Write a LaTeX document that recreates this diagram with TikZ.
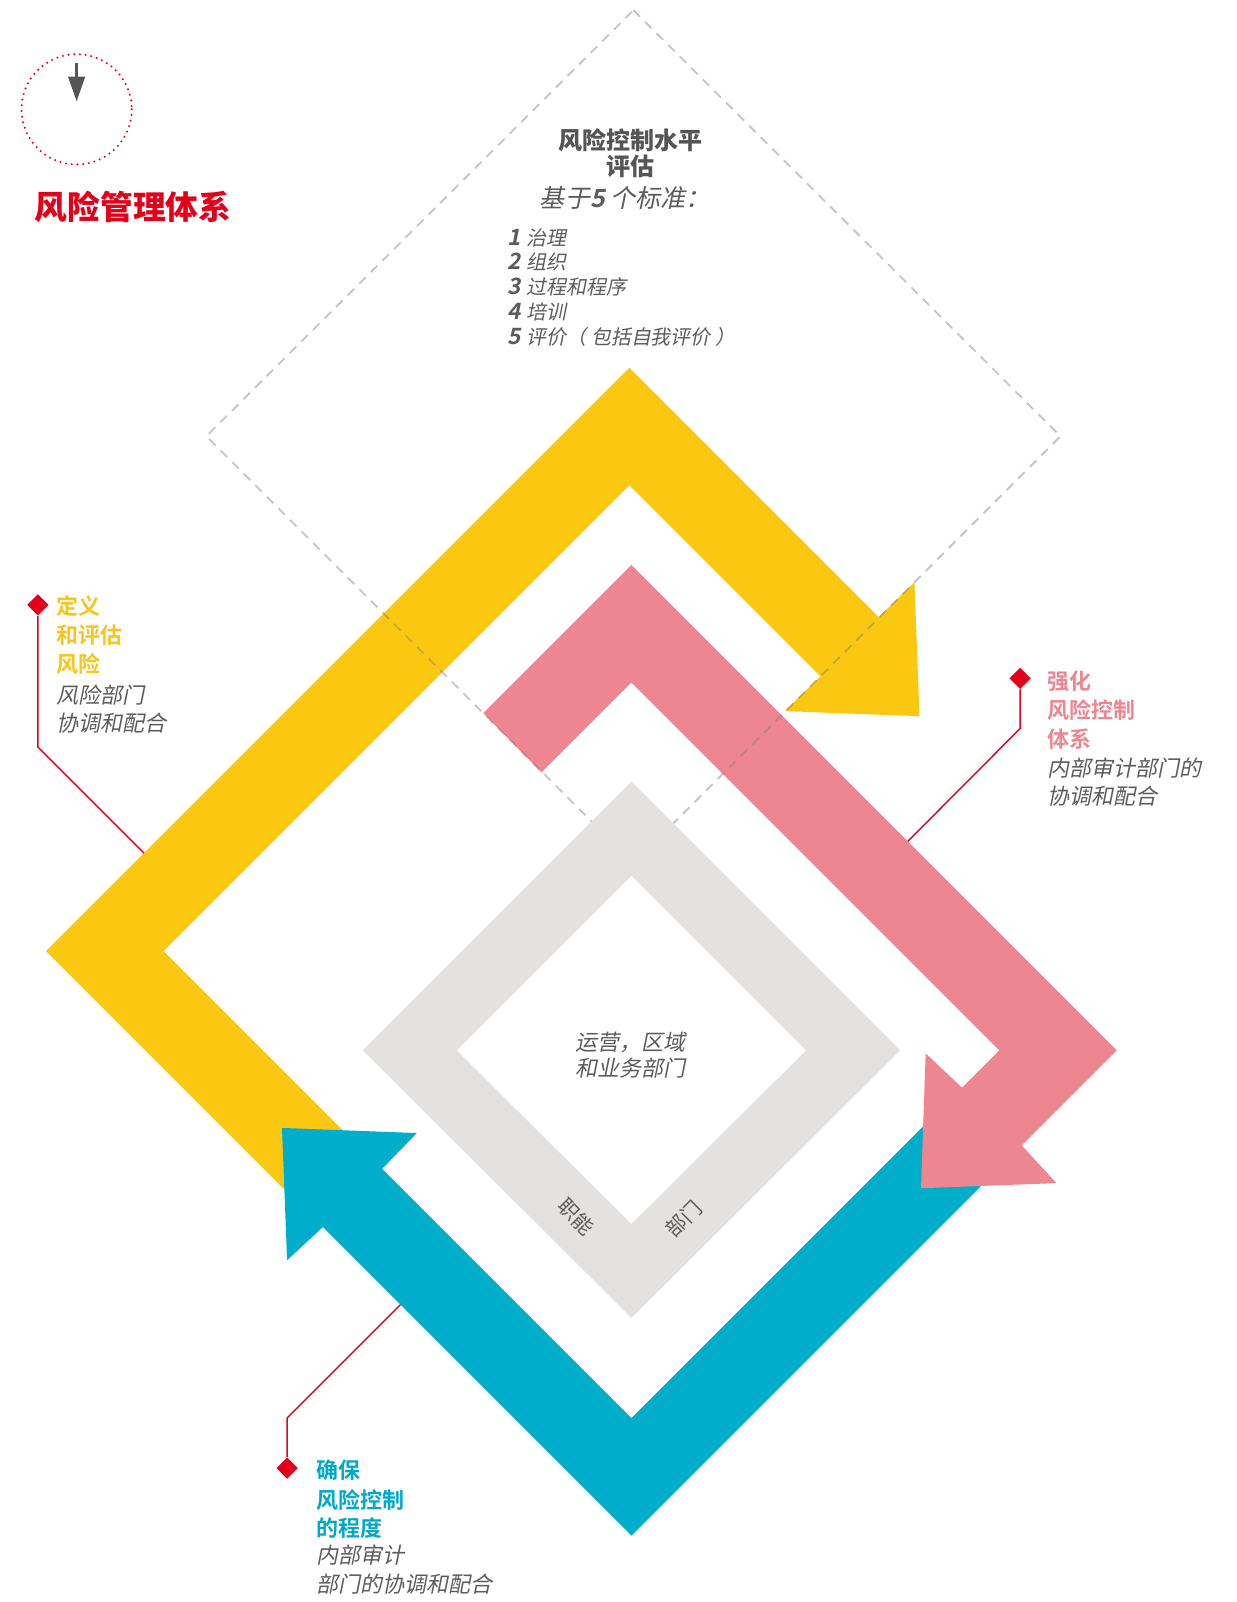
\documentclass[tikz,border=0pt]{standalone}
\usepackage{fontspec}
\usetikzlibrary{shapes.geometric}
\newfontfamily\cjk{Noto Sans CJK SC}
\newfontfamily\cjkit[FakeSlant=0.2]{Noto Sans CJK SC}
\IfFontExistsTF{Noto Sans CJK SC Bold}{%
  \newfontfamily\cjkb{Noto Sans CJK SC Bold}%
  \newfontfamily\cjkbit[FakeSlant=0.2]{Noto Sans CJK SC Bold}%
}{%
  \newfontfamily\cjkb[FakeBold=2.5]{Noto Sans CJK SC}%
  \newfontfamily\cjkbit[FakeBold=2.5,FakeSlant=0.2]{Noto Sans CJK SC}%
}
\IfFontExistsTF{Noto Sans CJK SC Black}{%
  \newfontfamily\cjkblack{Noto Sans CJK SC Black}%
}{%
  \let\cjkblack\cjkb
}
\definecolor{cyel}{HTML}{FAC711}
\definecolor{cpink}{HTML}{EE8692}
\definecolor{ccyan}{HTML}{00AECB}
\definecolor{cgray}{HTML}{E3E2E0}
\definecolor{cred}{HTML}{E3001B}
\definecolor{ctxt}{HTML}{5C5C5C}
\definecolor{chead}{HTML}{555555}
\definecolor{cdash}{HTML}{808080}
\definecolor{tyel}{HTML}{F9C51B}
\definecolor{tpink}{HTML}{EE8692}
\definecolor{tcyan}{HTML}{00A9C8}
\tikzset{
  lbl/.style={anchor=west, inner sep=0pt},
  ctr/.style={anchor=center, inner sep=0pt},
  marker/.style={diamond, fill=cred, inner sep=0pt, minimum size=21pt},
  callout/.style={draw=cred, line width=1.4pt},
  ybold/.style={lbl, text=tyel, font=\fontsize{21.5pt}{21.5pt}\cjkb},
  pbold/.style={lbl, text=tpink, font=\fontsize{21.5pt}{21.5pt}\cjkb},
  cbold/.style={lbl, text=tcyan, font=\fontsize{21.5pt}{21.5pt}\cjkb},
  gital/.style={lbl, text=ctxt, font=\fontsize{21.5pt}{21.5pt}\cjkit},
  listtxt/.style={lbl, text=ctxt, font=\fontsize{19.5pt}{19.5pt}\cjkit},
  dashline/.style={draw=cdash, opacity=0.45, line width=1.8pt, dash pattern=on 9pt off 7pt}
}
\newcommand\listnum[1]{{\fontsize{22pt}{22pt}\cjkbit #1}\hspace{5pt}}
\begin{document}
\begin{tikzpicture}[x=1pt,y=-1pt]
\useasboundingbox (0,0) rectangle (1210,1568);
\fill[white] (0,0) rectangle (1210,1568);

% yellow band
\fill[cyel] (300,1186) -- (45,931) -- (616,360) -- (860,604) -- (895,570) -- (900,701)
  -- (768,696) -- (803,662) -- (616,475) -- (160,931) -- (357.5,1128.5) -- cycle;
% cyan band
\fill[ccyan] (985,1136) -- (618,1503) -- (316,1201) -- (281,1233.5) -- (276,1104)
  -- (408,1109) -- (374,1144) -- (618,1388) -- (927.5,1078.5) -- cycle;
% pink band
\fill[cpink] (473,698) -- (618,553) -- (1093,1028) -- (1000,1121) -- (1034,1158)
  -- (901.5,1163) -- (906,1031) -- (941.5,1064.5) -- (978,1028) -- (618,668) -- (530,756) -- cycle;
% dashed diamond
\draw[dashline] (620,10) -- (1038,427) -- (620,845) -- (202,427) -- cycle;
% gray ring
\fill[cgray, even odd rule] (618,765) -- (881,1028) -- (618,1290) -- (355,1028) -- cycle
  (618,857) -- (789,1028) -- (618,1198) -- (447,1028) -- cycle;

% dotted circle with arrow
\draw[cred, line width=2.2pt, dash pattern=on 0pt off 5.6pt, line cap=round] (75,107) circle[radius=54];
\fill[chead] (73.3,62) rectangle (76.7,77);
\fill[chead] (66.5,75) -- (83.5,75) -- (75,99) -- cycle;

% title
\node[lbl, text=cred, font=\fontsize{32pt}{32pt}\cjkblack] (title) at (34,203) {风险管理体系};

% top text block
\node[ctr, text=chead, font=\fontsize{23.5pt}{23.5pt}\cjkblack] (h1) at (617,137) {风险控制水平};
\node[ctr, text=chead, font=\fontsize{23.5pt}{23.5pt}\cjkblack] (h2) at (617,163) {评估};
\node[ctr, text=ctxt, font=\fontsize{24.5pt}{24.5pt}\cjkit] (h3) at (612,194) {基于{\cjkbit 5} 个标准：};
\node[listtxt] (i1) at (497,232.5) {\listnum{1}治理};
\node[listtxt] (i2) at (497,256.5) {\listnum{2}组织};
\node[listtxt] (i3) at (497,281) {\listnum{3}过程和程序};
\node[listtxt] (i4) at (497,305) {\listnum{4}培训};
\node[listtxt] (i5) at (497,329.5) {\listnum{5}评价（\hspace{5pt}包括自我评价\hspace{5pt}）};

% center text
\node[ctr, text=ctxt, font=\fontsize{21.5pt}{21.5pt}\cjkit] (c1) at (617,1020) {运营，区域};
\node[ctr, text=ctxt, font=\fontsize{21.5pt}{21.5pt}\cjkit] (c2) at (617,1045) {和业务部门};
\node[ctr, text=ctxt, font=\fontsize{20pt}{20pt}\cjk, rotate=-45] (g1) at (564,1191) {职能};
\node[ctr, text=ctxt, font=\fontsize{20pt}{20pt}\cjk, rotate=45] (g2) at (669,1193) {部门};

% left callout
\coordinate (kL) at (37,731);
\coordinate (eL) at (141,835);
\node[marker] (dL) at (37,592) {};
\draw[callout] (dL) -- (kL) -- (eL);
\node[ybold] (l1) at (55,593) {定义};
\node[ybold] (l2) at (55,621.5) {和评估};
\node[ybold] (l3) at (55,650) {风险};
\node[gital] (l4) at (55,680.5) {风险部门};
\node[gital] (l5) at (55,708) {协调和配合};

% right callout
\coordinate (kR) at (998.5,713);
\coordinate (eR) at (888.5,823.5);
\node[marker] (dR) at (998.5,664) {};
\draw[callout] (dR) -- (kR) -- (eR);
\node[pbold] (r1) at (1025,666.5) {强化};
\node[pbold] (r2) at (1025,695) {风险控制};
\node[pbold] (r3) at (1025,723.5) {体系};
\node[gital] (r4) at (1025,752) {内部审计部门的};
\node[gital] (r5) at (1025,779) {协调和配合};

% bottom callout
\coordinate (kB) at (281,1388);
\coordinate (eB) at (392,1277);
\node[marker] (dB) at (281,1437) {};
\draw[callout] (dB) -- (kB) -- (eB);
\node[cbold] (b1) at (310,1439) {确保};
\node[cbold] (b2) at (310,1468) {风险控制};
\node[cbold] (b3) at (310,1496) {的程度};
\node[gital] (b4) at (310,1522) {内部审计};
\node[gital] (b5) at (310,1550) {部门的协调和配合};
\end{tikzpicture}
\end{document}
